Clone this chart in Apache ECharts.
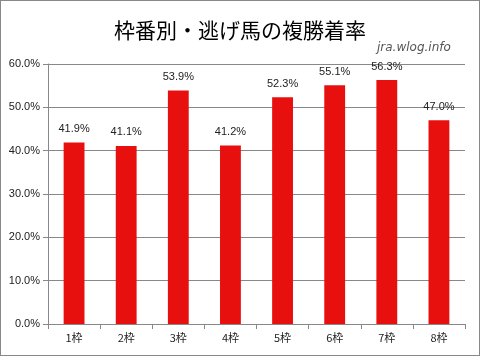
<!DOCTYPE html>
<html><head><meta charset="utf-8">
<script src="https://cdn.jsdelivr.net/npm/echarts@6/dist/echarts.min.js"></script>
<style>html,body{margin:0;padding:0;background:#fff}#c{width:478px;height:354px;border:1px solid #888}</style>
</head><body><div id="c"></div>
<script>
const categories = ["1枠","2枠","3枠","4枠","5枠","6枠","7枠","8枠"];
const values = [41.9, 41.1, 53.9, 41.2, 52.3, 55.1, 56.3, 47.0];
const titleText = "枠番別・逃げ馬の複勝着率";
const watermark = "jra.wlog.info";

const chart = echarts.init(document.getElementById('c'));
chart.setOption({
  animation: false,
  backgroundColor: '#fff',
  title: [{
    text: titleText, left: 'center', top: 14,
    textStyle: {fontFamily: 'Noto Sans CJK JP', fontWeight: 'normal', fontSize: 21, color: '#000'}
  }, {
    text: watermark, left: 371, top: 36,
    textStyle: {fontFamily: 'DejaVu Sans', fontStyle: 'italic', fontWeight: 'normal', fontSize: 12, color: '#555'}
  }],
  grid: {left: 47, right: 14, top: 63, bottom: 31, containLabel: false},
  xAxis: {
    type: 'category', data: categories,
    axisLine: {lineStyle: {color: '#888'}},
    axisTick: {show: true, length: 5, lineStyle: {color: '#888'}},
    axisLabel: {color: '#222', fontSize: 11, fontFamily: 'Noto Sans CJK JP', margin: 8}
  },
  yAxis: {
    type: 'value', min: 0, max: 60, interval: 10,
    axisLine: {show: true, lineStyle: {color: '#888'}},
    axisTick: {show: true, length: 5, lineStyle: {color: '#888'}},
    splitLine: {lineStyle: {color: '#888'}},
    axisLabel: {color: '#222', fontSize: 11, fontFamily: 'Liberation Sans', margin: 8,
      formatter: v => v.toFixed(1) + '%'}
  },
  series: [{
    type: 'bar', data: values, barWidth: '40%',
    itemStyle: {color: '#E8100F'},
    label: {show: true, position: 'top', distance: 8, color: '#222', fontSize: 11,
      fontFamily: 'Liberation Sans', formatter: p => p.value.toFixed(1) + '%'}
  }]
});
</script></body></html>
